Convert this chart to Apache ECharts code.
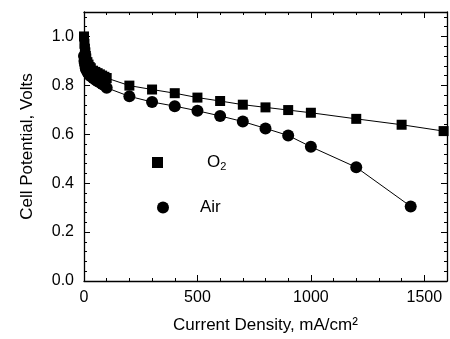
<!DOCTYPE html>
<html><head><meta charset="utf-8">
<script src="https://cdn.jsdelivr.net/npm/echarts@6/dist/echarts.min.js"></script>
<style>html,body{margin:0;padding:0;background:#fff}#c{width:450px;height:339px}</style>
</head><body><div id="c"></div>
<script>
var o2Current = [0,2,4,6,8,10,15,20,25,30,40,50,60,70,80,90,100,200,300,400,500,600,700,800,900,1000,1200,1400,1585];
var o2Volts   = [1.0,0.97,0.95,0.935,0.92,0.91,0.895,0.885,0.875,0.87,0.86,0.855,0.85,0.845,0.84,0.835,0.83,0.799,0.783,0.768,0.75,0.736,0.721,0.71,0.699,0.688,0.663,0.639,0.613];
var airCurrent = [0,2,4,6,8,10,15,20,25,30,40,50,60,70,80,90,100,200,300,400,500,600,700,800,900,1000,1200,1440];
var airVolts   = [0.92,0.9,0.89,0.88,0.87,0.865,0.855,0.848,0.842,0.837,0.83,0.823,0.817,0.812,0.806,0.8,0.79,0.755,0.732,0.715,0.696,0.675,0.652,0.624,0.595,0.549,0.465,0.305];
var xTicks = [0,500,1000,1500];
var yTicks = [0.0,0.2,0.4,0.6,0.8,1.0];

function pairs(xs, ys){ return xs.map(function(x,i){ return [x, ys[i]]; }); }
var font = 'Liberation Sans, Arial, sans-serif';
var chart = echarts.init(document.getElementById('c'), null, {renderer:'canvas'});
function axisCommon(){
  return {
    axisLine:{show:true,onZero:false,lineStyle:{color:'#000',width:1.3}},
    axisTick:{show:true,inside:true,length:6,lineStyle:{color:'#000',width:1}},
    minorTick:{show:true,splitNumber:5,length:3,lineStyle:{color:'#000',width:1}},
    splitLine:{show:false}
  };
}
var legendText = {fontFamily:font,fontSize:17,color:'#000',
  rich:{s:{fontFamily:font,fontSize:11,verticalAlign:'bottom',padding:[9,0,0,0]}}};
chart.setOption({
  animation:false,
  backgroundColor:'#fff',
  grid:{left:84,right:1,top:12,bottom:51,containLabel:false},
  legend:[
    {orient:'vertical', left:147, top:149, itemWidth:11, itemHeight:11,
     data:[{name:'O2',icon:'rect'}],
     textStyle:Object.assign({padding:[0,0,0,39]},legendText),
     formatter:function(n){ return 'O{s|2}'; }},
    {orient:'vertical', left:152, top:194, itemWidth:12, itemHeight:12,
     data:[{name:'Air',icon:'circle'}],
     textStyle:Object.assign({padding:[0,0,0,26]},legendText)}
  ],
  xAxis:[
    Object.assign(axisCommon(),{type:'value',min:0,max:1600,interval:500,position:'bottom',
      name:'Current Density, mA/cm²',nameLocation:'middle',nameGap:36,
      nameTextStyle:{fontFamily:font,fontSize:17,color:'#000'},
      axisLabel:{fontFamily:font,fontSize:16,color:'#000',margin:9,
        formatter:function(v){ return xTicks.indexOf(v)>=0 ? String(v) : ''; }}}),
    Object.assign(axisCommon(),{type:'value',min:0,max:1600,interval:500,position:'top',axisLabel:{show:false}})
  ],
  yAxis:[
    Object.assign(axisCommon(),{type:'value',min:0,max:1.1,interval:0.2,position:'left',
      name:'Cell Potential, Volts',nameLocation:'middle',nameGap:48,
      nameTextStyle:{fontFamily:font,fontSize:17,color:'#000'},
      axisLabel:{fontFamily:font,fontSize:16,color:'#000',margin:10,
        formatter:function(v){ return yTicks.some(function(t){return Math.abs(t-v)<1e-6;}) ? (Math.round(v*10)/10).toFixed(1) : ''; }}}),
    Object.assign(axisCommon(),{type:'value',min:0,max:1.1,interval:0.2,position:'right',axisLabel:{show:false}})
  ],
  series:[
    {name:'O2',type:'line',data:pairs(o2Current,o2Volts),symbol:'rect',symbolSize:10,
      itemStyle:{color:'#000'},lineStyle:{color:'#000',width:1},z:3},
    {name:'Air',type:'line',data:pairs(airCurrent,airVolts),symbol:'circle',symbolSize:12,
      itemStyle:{color:'#000'},lineStyle:{color:'#000',width:1},z:3}
  ]
});
</script></body></html>
